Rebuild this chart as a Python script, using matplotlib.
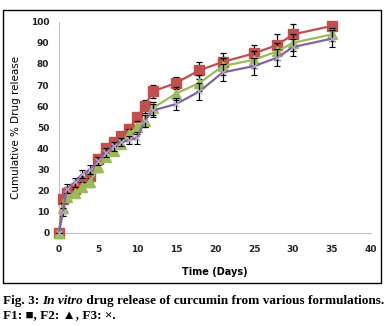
import matplotlib
matplotlib.use('Agg')
import matplotlib.pyplot as plt
from matplotlib.patches import Rectangle

# release data
days = [0, 0.5, 1, 2, 3, 4, 5, 6, 7, 8, 9, 10, 11, 12, 15, 18, 21, 25, 28, 30, 35]
f1 = [0, 16, 19, 21, 24, 27, 35, 40, 43, 46, 49, 55, 60, 67, 71, 77, 81, 85, 89, 94, 98]
f2 = [0, 12, 17, 19, 22, 24, 31, 36, 39, 42, 47, 50, 53, 59, 66, 71, 79, 82, 86, 90, 94]
f3 = [0, 10, 21, 24, 28, 30, 34, 38, 41, 43, 44, 45, 53, 58, 61, 67, 76, 79, 83, 88, 92]
f1_err = [0, 2, 3, 2, 3, 3, 2, 2, 2, 2, 2, 2, 3, 3, 3, 4, 4, 4, 5, 5, 2]
f2_err = [0, 2, 2, 2, 2, 2, 2, 2, 2, 2, 2, 3, 3, 3, 3, 4, 4, 4, 4, 4, 3]
f3_err = [0, 2, 2, 2, 2, 2, 2, 2, 2, 2, 2, 3, 3, 3, 3, 4, 4, 4, 4, 4, 4]

xticks = [0, 5, 10, 15, 20, 25, 30, 35, 40]
yticks = [0, 10, 20, 30, 40, 50, 60, 70, 80, 90, 100]

fig = plt.figure(figsize=(3.85, 3.26), dpi=100)
ax = fig.add_axes([59/385, 1-233/326, (371-59)/385, (233-21.7)/326])

ax.errorbar(days, f1, yerr=f1_err, color='#C0504D', lw=1.6, marker='s', ms=6.5,
            ecolor='black', elinewidth=0.9, capsize=2.2, capthick=0.9, clip_on=False, zorder=3)
ax.errorbar(days, f2, yerr=f2_err, color='#9BBB59', lw=1.6, marker='^', ms=6.5,
            ecolor='black', elinewidth=0.9, capsize=2.2, capthick=0.9, clip_on=False, zorder=4)
ax.errorbar(days, f3, yerr=f3_err, color='#8064A2', lw=1.6, marker='x', ms=4,
            mec='#B8AFD0', mew=0.8, ecolor='black', elinewidth=0.9, capsize=2.2,
            capthick=0.9, clip_on=False, zorder=5)

ax.set_xlim(0, 40)
ax.set_ylim(0, 100)
ax.set_xticks(xticks)
ax.set_yticks(yticks)
ax.tick_params(axis='y', length=0, labelsize=6.5, colors='#222222', pad=7)
ax.tick_params(axis='x', length=0, labelsize=6.5, colors='#222222', pad=9)
for lab in ax.get_xticklabels() + ax.get_yticklabels():
    lab.set_fontweight('bold')
for s in ['top', 'right']:
    ax.spines[s].set_visible(False)
for s in ['left', 'bottom']:
    ax.spines[s].set_color('#BFBFBF')
    ax.spines[s].set_linewidth(0.8)

ax.set_xlabel('Time (Days)', fontsize=7, fontweight='bold', labelpad=9)
ax.set_ylabel('Cumulative % Drug release', fontsize=7.5, labelpad=7)

fig.patches.append(Rectangle((3/385, 1-283/326), 378/385, 273/326,
                             transform=fig.transFigure, fill=False, ec='black', lw=1))

# caption in pieces (bold / bold italic)
fig.canvas.draw()
r = fig.canvas.get_renderer()
cap = dict(family='Liberation Serif', fontsize=9.5, fontweight='bold', va='baseline')
x0 = 3/385
y1 = 1-304/326
parts = [('Fig. 3: ', 'normal'), ('In vitro', 'italic'),
         (' drug release of curcumin from various formulations.', 'normal')]
x = x0
for txt, st in parts:
    t = fig.text(x, y1, txt, style=st, **cap)
    bb = t.get_window_extent(r)
    x = bb.x1 / fig.bbox.width
fig.text(x0, 1-318/326, 'F1: \u25a0, F2: \u25b2, F3: \u00d7.', **cap)

fig.savefig('out.png', dpi=100)
